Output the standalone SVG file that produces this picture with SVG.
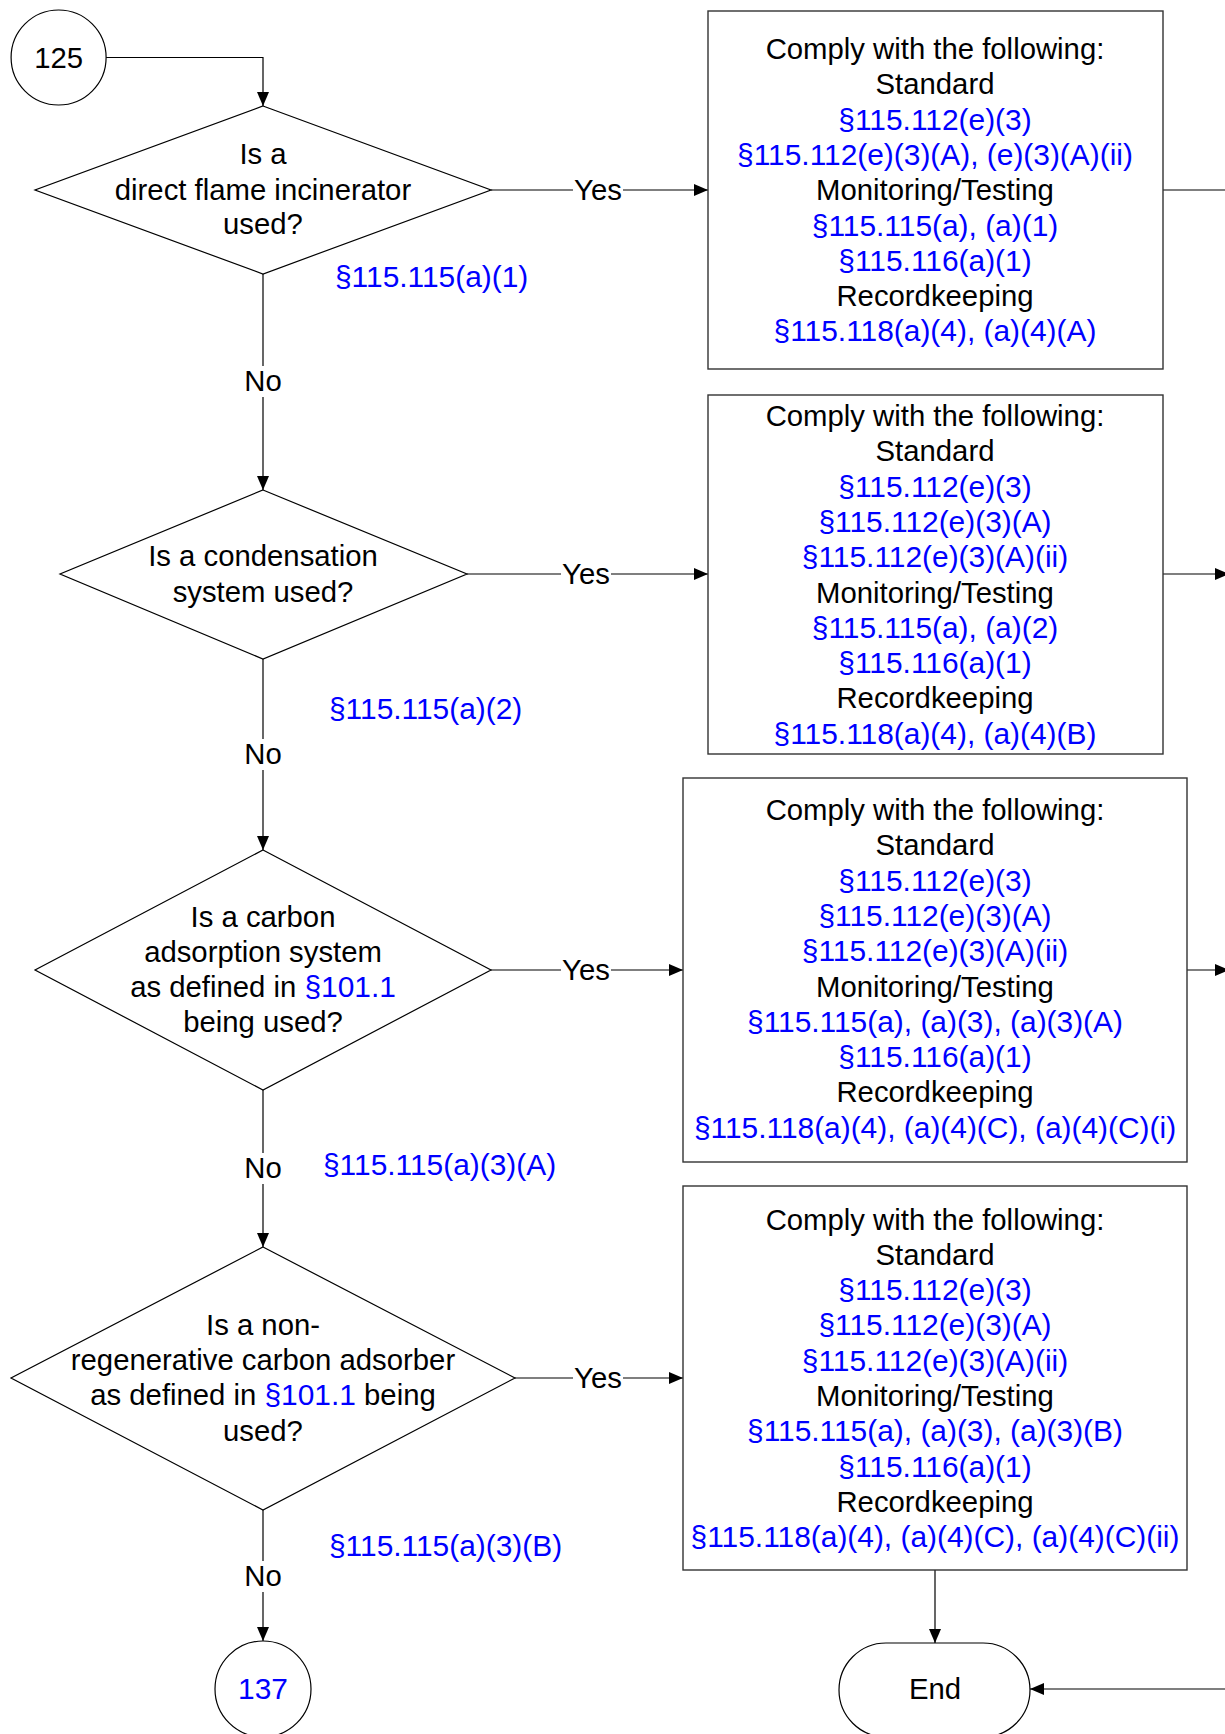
<svg xmlns="http://www.w3.org/2000/svg" width="1225" height="1734" viewBox="0 0 1225 1734">
<style>
text{font-family:"Liberation Sans",Arial,sans-serif;font-size:29.3px;fill:#000;text-anchor:middle}
.b{fill:#0000ff;font-size:29.9px}
.l{text-anchor:start}
.shape{fill:#fff;stroke:#000;stroke-width:1.2}
.box{fill:#fff;stroke:#333;stroke-width:1.4}
.c{fill:none;stroke:#000;stroke-width:1.2}
</style>
<defs>
<marker id="ah" markerUnits="userSpaceOnUse" markerWidth="14" markerHeight="12" refX="14" refY="6" orient="auto">
<path d="M0,0 L14,6 L0,12 z" fill="#000"/>
</marker>
</defs>
<rect width="1225" height="1734" fill="#fff"/>
<g id="connectors">
<path class="c" d="M106,57.5 H263 V106" marker-end="url(#ah)"/>
<path class="c" d="M491,190 H573"/><path class="c" d="M623,190 H708" marker-end="url(#ah)"/>
<path class="c" d="M263,274 V366"/><path class="c" d="M263,397 V490" marker-end="url(#ah)"/>
<path class="c" d="M467,574 H561"/><path class="c" d="M611,574 H708" marker-end="url(#ah)"/>
<path class="c" d="M263,659 V739"/><path class="c" d="M263,770 V850" marker-end="url(#ah)"/>
<path class="c" d="M491,970 H561"/><path class="c" d="M611,970 H683" marker-end="url(#ah)"/>
<path class="c" d="M263,1090 V1153"/><path class="c" d="M263,1184 V1247" marker-end="url(#ah)"/>
<path class="c" d="M515,1378 H573"/><path class="c" d="M623,1378 H683" marker-end="url(#ah)"/>
<path class="c" d="M263,1510 V1561"/><path class="c" d="M263,1592 V1641" marker-end="url(#ah)"/>
<path class="c" d="M935,1570 V1643" marker-end="url(#ah)"/>
<path class="c" d="M1225,1689 H1030" marker-end="url(#ah)"/>
<path class="c" d="M1163,190 H1225"/>
<path class="c" d="M1163,574 H1229" marker-end="url(#ah)"/>
<path class="c" d="M1187,970 H1229" marker-end="url(#ah)"/>
<text x="598" y="200">Yes</text>
<text x="586" y="584">Yes</text>
<text x="586" y="980">Yes</text>
<text x="598" y="1388">Yes</text>
<text x="263" y="391">No</text>
<text x="263" y="764">No</text>
<text x="263" y="1178">No</text>
<text x="263" y="1586">No</text>
<text class="b l" x="335" y="287">§115.115(a)(1)</text>
<text class="b l" x="329" y="719">§115.115(a)(2)</text>
<text class="b l" x="323" y="1175">§115.115(a)(3)(A)</text>
<text class="b l" x="329" y="1556">§115.115(a)(3)(B)</text>
</g>
<g id="n125">
<ellipse class="shape" cx="58.6" cy="57.5" rx="47.5" ry="47.5"/>
<text x="58.6" y="67.5">125</text>
</g>
<g id="d1">
<polygon class="shape" points="263,106 491,190 263,274 35,190"/>
<text x="263" y="164">Is a</text>
<text x="263" y="200">direct flame incinerator</text>
<text x="263" y="234">used?</text>
</g>
<g id="d2">
<polygon class="shape" points="263,490 467,574 263,659 60,574"/>
<text x="263" y="566">Is a condensation</text>
<text x="263" y="601.5">system used?</text>
</g>
<g id="d3">
<polygon class="shape" points="263,850 491,970 263,1090 35,970"/>
<text x="263" y="926.5">Is a carbon</text>
<text x="263" y="962">adsorption system</text>
<text x="263" y="997">as defined in <tspan class="b">§101.1</tspan></text>
<text x="263" y="1031.5">being used?</text>
</g>
<g id="d4">
<polygon class="shape" points="263,1247 515,1378 263,1510 11,1378"/>
<text x="263" y="1334.5">Is a non-</text>
<text x="263" y="1370">regenerative carbon adsorber</text>
<text x="263" y="1405">as defined in <tspan class="b">§101.1</tspan> being</text>
<text x="263" y="1440.5">used?</text>
</g>
<g id="box1">
<rect class="box" x="708" y="11" width="455" height="358"/>
<text x="935" y="59">Comply with the following:</text>
<text x="935" y="94.3">Standard</text>
<text class="b" x="935" y="129.6">§115.112(e)(3)</text>
<text class="b" x="935" y="164.9">§115.112(e)(3)(A), (e)(3)(A)(ii)</text>
<text x="935" y="200.2">Monitoring/Testing</text>
<text class="b" x="935" y="235.5">§115.115(a), (a)(1)</text>
<text class="b" x="935" y="270.8">§115.116(a)(1)</text>
<text x="935" y="306.1">Recordkeeping</text>
<text class="b" x="935" y="341.4">§115.118(a)(4), (a)(4)(A)</text>
</g>
<g id="box2">
<rect class="box" x="708" y="395" width="455" height="359"/>
<text x="935" y="426">Comply with the following:</text>
<text x="935" y="461.3">Standard</text>
<text class="b" x="935" y="496.6">§115.112(e)(3)</text>
<text class="b" x="935" y="531.9">§115.112(e)(3)(A)</text>
<text class="b" x="935" y="567.2">§115.112(e)(3)(A)(ii)</text>
<text x="935" y="602.5">Monitoring/Testing</text>
<text class="b" x="935" y="637.8">§115.115(a), (a)(2)</text>
<text class="b" x="935" y="673.1">§115.116(a)(1)</text>
<text x="935" y="708.4">Recordkeeping</text>
<text class="b" x="935" y="743.7">§115.118(a)(4), (a)(4)(B)</text>
</g>
<g id="box3">
<rect class="box" x="683" y="778" width="504" height="384"/>
<text x="935" y="820">Comply with the following:</text>
<text x="935" y="855.3">Standard</text>
<text class="b" x="935" y="890.6">§115.112(e)(3)</text>
<text class="b" x="935" y="925.9">§115.112(e)(3)(A)</text>
<text class="b" x="935" y="961.2">§115.112(e)(3)(A)(ii)</text>
<text x="935" y="996.5">Monitoring/Testing</text>
<text class="b" x="935" y="1031.8">§115.115(a), (a)(3), (a)(3)(A)</text>
<text class="b" x="935" y="1067.1">§115.116(a)(1)</text>
<text x="935" y="1102.4">Recordkeeping</text>
<text class="b" x="935" y="1137.7">§115.118(a)(4), (a)(4)(C), (a)(4)(C)(i)</text>
</g>
<g id="box4">
<rect class="box" x="683" y="1186" width="504" height="384"/>
<text x="935" y="1229.5">Comply with the following:</text>
<text x="935" y="1264.8">Standard</text>
<text class="b" x="935" y="1300.1">§115.112(e)(3)</text>
<text class="b" x="935" y="1335.4">§115.112(e)(3)(A)</text>
<text class="b" x="935" y="1370.7">§115.112(e)(3)(A)(ii)</text>
<text x="935" y="1406">Monitoring/Testing</text>
<text class="b" x="935" y="1441.3">§115.115(a), (a)(3), (a)(3)(B)</text>
<text class="b" x="935" y="1476.6">§115.116(a)(1)</text>
<text x="935" y="1511.9">Recordkeeping</text>
<text class="b" x="935" y="1547.2">§115.118(a)(4), (a)(4)(C), (a)(4)(C)(ii)</text>
</g>
<g id="n137">
<ellipse class="shape" cx="263" cy="1689" rx="48" ry="48"/>
<text class="b" x="263" y="1699">137</text>
</g>
<g id="end">
<rect class="shape" x="839" y="1643" width="191" height="94" rx="47" ry="47"/>
<text x="935" y="1699">End</text>
</g>
</svg>
